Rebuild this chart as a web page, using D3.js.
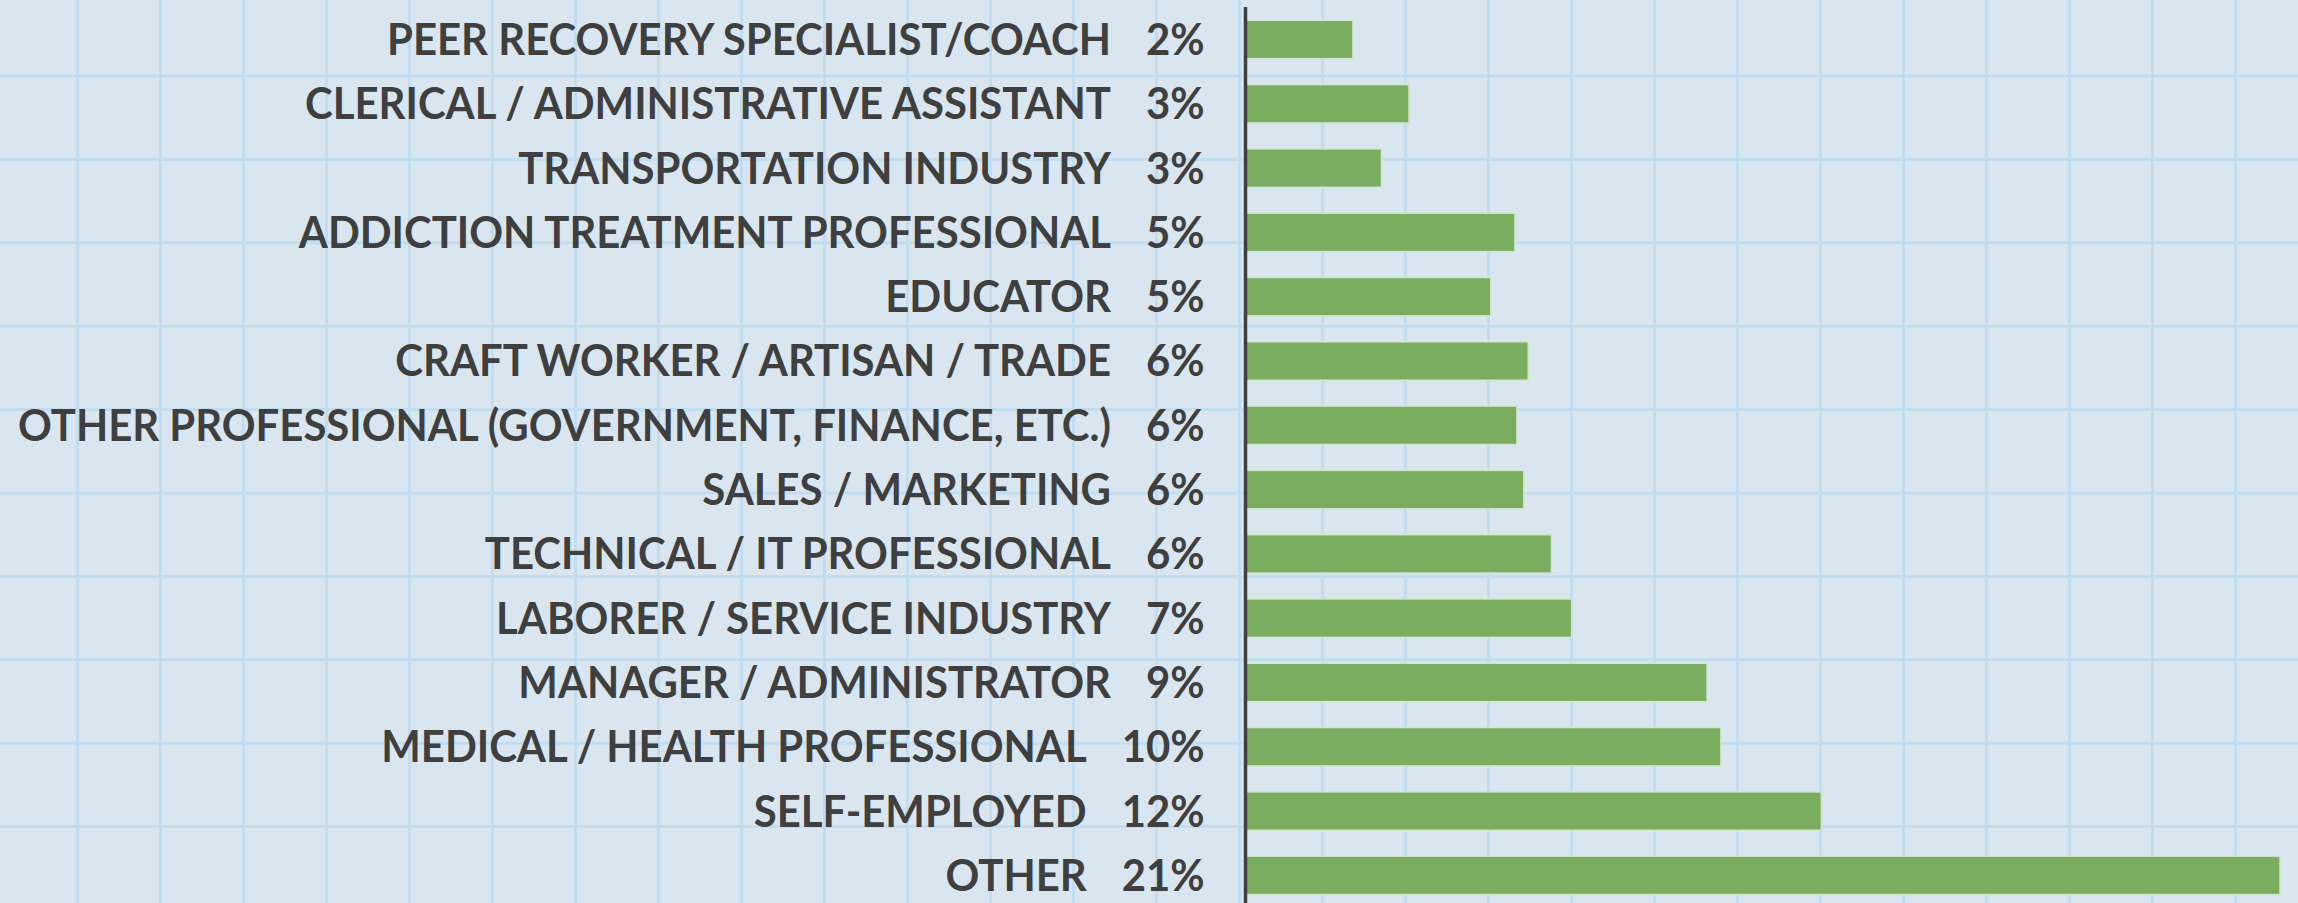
<!DOCTYPE html>
<meta charset="UTF-8">
<style>
  html, body { margin: 0; padding: 0; background: #d9e6f0; overflow: hidden; }
  .label { font-family: Lato, "Noto Sans", sans-serif; font-weight: 700; font-size: 43px; fill: #3f3f3f; }
  .grid line { stroke: #c3ddf0; stroke-width: 3px; }
  .bar { fill: #7aad60; stroke: #d2e6cb; stroke-width: 1.5px; }
</style>
<body>
<div class="chart"></div>
<script src="https://d3js.org/d3.v7.min.js"></script>
<script>
// chart data, top to bottom
var categories = [
  "PEER RECOVERY SPECIALIST/COACH",
  "CLERICAL / ADMINISTRATIVE ASSISTANT",
  "TRANSPORTATION INDUSTRY",
  "ADDICTION TREATMENT PROFESSIONAL",
  "EDUCATOR",
  "CRAFT WORKER / ARTISAN / TRADE",
  "OTHER PROFESSIONAL (GOVERNMENT, FINANCE, ETC.)",
  "SALES / MARKETING",
  "TECHNICAL / IT PROFESSIONAL",
  "LABORER / SERVICE INDUSTRY",
  "MANAGER / ADMINISTRATOR",
  "MEDICAL / HEALTH PROFESSIONAL",
  "SELF-EMPLOYED",
  "OTHER"
];
// bar lengths (percent)
var values = [2.18, 3.32, 2.76, 5.47, 4.98, 5.74, 5.51, 5.65, 6.21, 6.62, 9.37, 9.65, 11.69, 21.0];
// the rounded labels shown next to each bar
var pctLabels = ["2%", "3%", "3%", "5%", "5%", "6%", "6%", "6%", "6%", "7%", "9%", "10%", "12%", "21%"];

var width = 2298, height = 903;
var axisX = 1245.5, labelRight = 1204.7, labelLeft = 17.6;

var svg = d3.select(".chart").append("svg")
    .attr("width", width)
    .attr("height", height);

// graph-paper background
var defs = svg.append("defs");
defs.append("filter").attr("id", "soft")
  .append("feGaussianBlur").attr("stdDeviation", 0.6);

var grid = svg.append("g").attr("class", "grid").attr("filter", "url(#soft)");
grid.selectAll(".v").data(d3.range(0, 28)).enter().append("line")
    .attr("x1", function (k) { return 77.5 + 83 * k; })
    .attr("x2", function (k) { return 77.5 + 83 * k; })
    .attr("y1", 0).attr("y2", height);
grid.selectAll(".h").data(d3.range(0, 10)).enter().append("line")
    .attr("y1", function (k) { return 76 + 83.4 * k; })
    .attr("y2", function (k) { return 76 + 83.4 * k; })
    .attr("x1", 0).attr("x2", width);

var y = d3.scaleBand()
    .domain(categories)
    .range([7.35, 907.5])
    .paddingInner(0.403)
    .paddingOuter(0.2015);

var x = d3.scaleLinear()
    .domain([0, 21])
    .range([axisX, 2280]);

var rows = categories.map(function (c, i) {
  return { cat: c, value: values[i], pct: pctLabels[i] };
});

svg.append("g").selectAll("rect").data(rows).enter().append("rect")
    .attr("class", "bar")
    .attr("x", x(0))
    .attr("y", function (d) { return y(d.cat); })
    .attr("width", function (d) { return x(d.value) - x(0); })
    .attr("height", y.bandwidth());

// axis line
svg.append("line")
    .attr("x1", axisX).attr("x2", axisX)
    .attr("y1", 7).attr("y2", height)
    .attr("stroke", "#404040")
    .attr("stroke-width", 3.5);

// labels: category + percent, right aligned
var labelG = svg.append("g");
var texts = labelG.selectAll("text").data(rows).enter().append("text")
    .attr("class", "label")
    .attr("x", 0)
    .attr("y", function (d) { return y(d.cat) + y.bandwidth() / 2 + 15.5; })
    .attr("text-anchor", "end");
texts.append("tspan").text(function (d) { return d.cat; });
texts.append("tspan").attr("dx", 36).text(function (d) { return d.pct; });

// stretch horizontally so the widest row spans the same width as the original
var box = labelG.node().getBBox();
var sx = (labelRight - labelLeft) / box.width;
labelG.attr("transform", "translate(" + labelRight + ",0) scale(" + sx + ",1)");
</script>
</body>
